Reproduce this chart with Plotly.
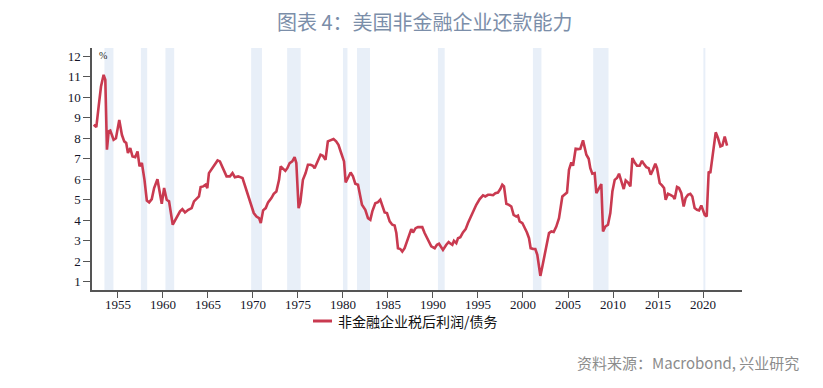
import plotly.graph_objects as go

# ---- data ----
years = [1952.31, 1952.60, 1952.86, 1953.12, 1953.41, 1953.60, 1953.78, 1953.97, 1954.15, 1954.52,
         1954.78, 1955.15, 1955.44, 1955.70, 1955.92, 1956.11, 1956.37, 1956.62, 1956.92, 1957.18,
         1957.40, 1957.66, 1957.95, 1958.21, 1958.47, 1958.76, 1959.02, 1959.39, 1959.87, 1960.13,
         1960.42, 1960.68, 1961.09, 1961.46, 1961.90, 1962.16, 1962.45, 1962.82, 1963.19, 1963.45,
         1963.75, 1964.00, 1964.19, 1964.48, 1964.74, 1964.93, 1965.11, 1965.48, 1965.77, 1966.07,
         1966.33, 1966.70, 1967.07, 1967.44, 1967.73, 1967.99, 1968.36, 1968.84, 1969.28, 1969.65,
         1970.09, 1970.39, 1970.68, 1970.87, 1971.13, 1971.42, 1971.68, 1972.05, 1972.31, 1972.60,
         1972.90, 1973.08, 1973.34, 1973.60, 1973.82, 1974.08, 1974.37, 1974.63, 1974.82, 1975.07,
         1975.26, 1975.55, 1975.85, 1976.11, 1976.40, 1976.66, 1976.85, 1977.21, 1977.51, 1977.77,
         1978.06, 1978.32, 1978.69, 1978.95, 1979.24, 1979.50, 1979.80, 1979.98, 1980.12, 1980.30,
         1980.56, 1980.85, 1981.11, 1981.37, 1981.67, 1981.93, 1982.11, 1982.48, 1982.78, 1983.04,
         1983.26, 1983.59, 1983.89, 1984.15, 1984.37, 1984.63, 1984.89, 1985.19, 1985.48, 1985.74,
         1985.93, 1986.11, 1986.37, 1986.59, 1986.85, 1987.22, 1987.59, 1987.78, 1988.07, 1988.33,
         1988.81, 1989.07, 1989.44, 1989.81, 1990.19, 1990.44, 1990.67, 1990.93, 1991.11, 1991.48,
         1991.74, 1991.96, 1992.15, 1992.33, 1992.59, 1992.78, 1993.04, 1993.33, 1993.63, 1993.89,
         1994.19, 1994.52, 1994.81, 1995.19, 1995.56, 1995.81, 1996.11, 1996.37, 1996.67, 1996.93,
         1997.22, 1997.48, 1997.70, 1997.89, 1998.15, 1998.44, 1998.70, 1998.96, 1999.26, 1999.44,
         1999.63, 1999.93, 2000.19, 2000.44, 2000.67, 2000.85, 2001.11, 2001.37, 2001.59, 2001.74,
         2001.93, 2002.15, 2002.41, 2002.67, 2002.89, 2003.15, 2003.41, 2003.70, 2004.00, 2004.37,
         2004.63, 2004.89, 2005.11, 2005.37, 2005.56, 2005.85, 2006.11, 2006.37, 2006.67, 2006.85,
         2007.04, 2007.30, 2007.48, 2007.70, 2007.96, 2008.15, 2008.44, 2008.70, 2008.89, 2009.15,
         2009.44, 2009.70, 2009.93, 2010.19, 2010.44, 2010.67, 2010.93, 2011.19, 2011.41, 2011.67,
         2011.93, 2012.15, 2012.41, 2012.67, 2012.96, 2013.22, 2013.44, 2013.70, 2013.96, 2014.19,
         2014.44, 2014.70, 2014.89, 2015.19, 2015.44, 2015.67, 2015.85, 2016.11, 2016.37, 2016.67,
         2016.85, 2017.11, 2017.33, 2017.59, 2017.85, 2018.07, 2018.33, 2018.59, 2018.81, 2019.07,
         2019.33, 2019.56, 2019.81, 2020.00, 2020.19, 2020.41, 2020.63, 2020.81, 2021.11, 2021.41,
         2021.67, 2021.93, 2022.15, 2022.41, 2022.67]

ratio = [8.66, 8.55, 9.56, 10.53, 11.10, 10.86, 7.44, 8.34, 8.38, 7.93,
         8.00, 8.90, 8.17, 7.85, 7.77, 7.28, 7.52, 7.11, 7.08, 7.36,
         6.63, 6.79, 5.97, 4.96, 4.87, 5.03, 5.57, 6.00, 4.80, 5.57,
         5.00, 4.92, 3.78, 4.10, 4.43, 4.54, 4.38, 4.51, 4.59, 4.92,
         5.08, 5.16, 5.62, 5.65, 5.73, 5.57, 6.30, 6.54, 6.71, 6.92,
         6.87, 6.54, 6.14, 6.14, 6.30, 6.10, 6.14, 6.06, 5.49, 4.92,
         4.35, 4.18, 4.10, 3.86, 4.48, 4.59, 4.87, 5.08, 5.29, 5.40,
         5.97, 6.63, 6.54, 6.41, 6.54, 6.79, 6.87, 7.08, 6.79, 4.59,
         4.87, 5.97, 6.30, 6.71, 6.71, 6.66, 6.54, 6.95, 7.20, 7.15,
         6.95, 7.85, 7.93, 7.96, 7.85, 7.68, 7.28, 7.03, 6.87, 5.84,
         6.10, 6.33, 6.14, 5.78, 5.73, 5.24, 4.75, 4.51, 4.10, 4.02,
         4.43, 4.83, 4.88, 5.00, 4.75, 4.38, 4.35, 3.94, 3.78, 3.74,
         3.37, 2.63, 2.59, 2.47, 2.63, 3.12, 3.56, 3.40, 3.61, 3.66,
         3.66, 3.37, 3.04, 2.72, 2.63, 2.80, 2.85, 2.63, 2.55, 2.80,
         2.93, 2.85, 2.80, 2.99, 2.88, 3.12, 3.17, 3.40, 3.56, 3.86,
         4.18, 4.48, 4.75, 5.03, 5.21, 5.16, 5.24, 5.24, 5.22, 5.32,
         5.35, 5.52, 5.73, 5.65, 4.80, 4.75, 4.67, 4.26, 4.18, 4.22,
         3.94, 3.86, 3.65, 3.40, 3.12, 2.63, 2.60, 2.59, 2.31, 1.90,
         1.28, 1.74, 2.31, 2.85, 3.37, 3.45, 3.42, 3.69, 4.10, 5.16,
         5.27, 5.35, 6.46, 6.82, 6.66, 7.49, 7.47, 7.49, 7.90, 7.52,
         7.20, 7.00, 6.54, 6.27, 6.30, 5.32, 5.52, 5.76, 3.45, 3.69,
         3.78, 4.35, 5.40, 5.97, 6.06, 6.27, 5.89, 5.52, 5.94, 5.84,
         5.65, 7.03, 6.82, 6.66, 6.66, 6.90, 6.74, 6.59, 6.54, 6.22,
         6.46, 6.76, 6.54, 5.81, 5.70, 5.57, 5.00, 5.29, 5.24, 5.16,
         5.03, 5.62, 5.57, 5.32, 4.67, 5.08, 5.24, 5.29, 5.16, 4.59,
         4.51, 4.48, 4.72, 4.43, 4.26, 4.18, 6.38, 6.30, 7.28, 8.29,
         8.00, 7.60, 7.64, 8.09, 7.64]

recession_start = [1953.50, 1957.55, 1960.28, 1969.80, 1973.80, 1980.00, 1981.56, 1990.55, 2001.10, 2007.80, 2020.04]
recession_end   = [1954.50, 1958.25, 1961.25, 1971.00, 1975.30, 1980.50, 1983.00, 1991.30, 2002.05, 2009.50, 2020.26]

x_ticks = [1955, 1960, 1965, 1970, 1975, 1980, 1985, 1990, 1995, 2000, 2005, 2010, 2015, 2020]
y_ticks = [1, 2, 3, 4, 5, 6, 7, 8, 9, 10, 11, 12]

series_name = "非金融企业税后利润/债务"
title_text = "图表 4：美国非金融企业还款能力"
source_text = "资料来源：Macrobond, 兴业研究"

LINE_COLOR = "#c93a50"
SHADE_COLOR = "#e8eff8"
AXIS_COLOR = "#555555"

# page body has an 8px margin, so the figure is drawn 8px in from the window's corner
PX0, PY0 = 92, 48      # plot area top-left in window pixels
PW, PH = 650, 242      # plot area size


def px(xw):
    return (xw - PX0) / PW


def py(yw):
    return (PY0 + PH - yw) / PH


fig = go.Figure()
fig.add_trace(go.Scatter(x=years, y=ratio, mode="lines", name=series_name,
                         line=dict(color=LINE_COLOR, width=2.6), showlegend=False))

shapes = []
for s, e in zip(recession_start, recession_end):
    shapes.append(dict(type="rect", xref="x", yref="paper", x0=s, x1=e, y0=0, y1=1,
                       fillcolor=SHADE_COLOR, line=dict(width=0), layer="below"))
# legend sample line
shapes.append(dict(type="line", xref="paper", yref="paper",
                   x0=px(313), x1=px(332), y0=py(321), y1=py(321),
                   line=dict(color=LINE_COLOR, width=3)))

annotations = [
    dict(text=title_text, xref="paper", yref="paper", x=px(425), y=py(21),
         xanchor="center", yanchor="middle", showarrow=False,
         font=dict(family="Noto Sans CJK SC", size=20, color="#7b8ea9")),
    dict(text="%", xref="paper", yref="paper", x=px(97), y=py(55),
         xanchor="left", yanchor="middle", showarrow=False,
         font=dict(family="Liberation Serif", size=10, color="#222222")),
    dict(text=series_name, xref="paper", yref="paper", x=px(336), y=py(321),
         xanchor="left", yanchor="middle", showarrow=False,
         font=dict(family="Noto Sans CJK SC", size=14, color="#111111")),
    dict(text=source_text, xref="paper", yref="paper", x=px(801), y=py(362),
         xanchor="right", yanchor="middle", showarrow=False,
         font=dict(family="Noto Sans CJK SC", size=15, color="#8c8c8c")),
]

fig.update_layout(
    width=815, height=380,
    margin=dict(l=PX0 - 8, r=815 + 8 - (PX0 + PW), t=PY0 - 8, b=380 + 8 - (PY0 + PH)),
    paper_bgcolor="white", plot_bgcolor="white",
    shapes=shapes, annotations=annotations,
    showlegend=False,
    xaxis=dict(range=[1952.12, 2024.33], tickmode="array", tickvals=x_ticks,
               ticktext=[str(t) for t in x_ticks],
               showgrid=False, zeroline=False, showline=True, linecolor=AXIS_COLOR, linewidth=1.5,
               ticks="outside", ticklen=6, tickcolor=AXIS_COLOR, tickwidth=1,
               ticklabelstandoff=-4,
               tickfont=dict(family="Liberation Serif", size=13, color="#141428")),
    yaxis=dict(range=[0.59, 12.41], tickmode="array", tickvals=y_ticks,
               ticktext=[str(t) for t in y_ticks],
               showgrid=False, zeroline=False, showline=True, linecolor=AXIS_COLOR, linewidth=1.5,
               ticks="outside", ticklen=7, tickcolor=AXIS_COLOR, tickwidth=1,
               tickfont=dict(family="Liberation Serif", size=13, color="#141428")),
)

fig.write_html("out.html")
